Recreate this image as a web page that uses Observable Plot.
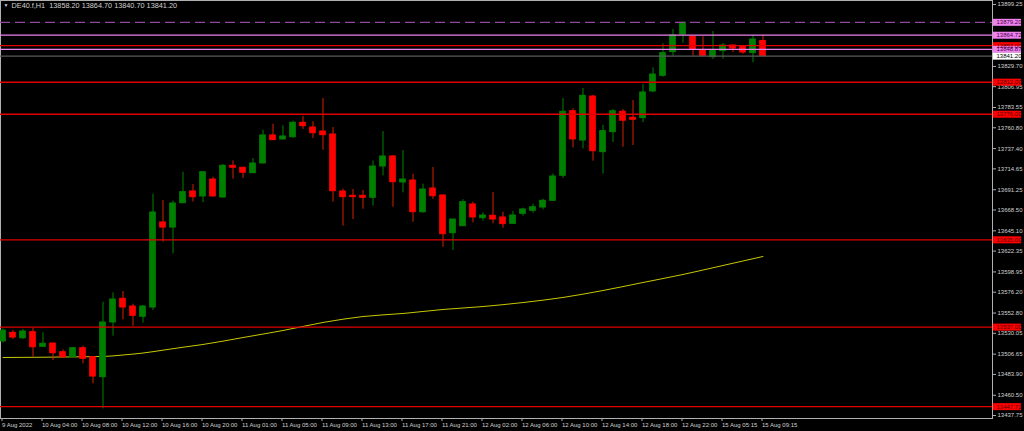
<!DOCTYPE html>
<html><head><meta charset="utf-8">
<script src="https://cdn.jsdelivr.net/npm/d3@7"></script>
<script src="https://cdn.jsdelivr.net/npm/@observablehq/plot@0.6"></script>
<style>
html,body{margin:0;padding:0;background:#000;}
#chart{width:1024px;height:431px;overflow:hidden;}
</style></head><body><div id="chart"></div>
<script>
// ---- data ----
const symbolName = "DE40.f,H1";
const lastOHLC = [13858.20, 13864.70, 13840.70, 13841.20];

const opens = [
13521.0, 13530.6, 13524.5, 13531.3, 13514.9, 13518.6, 13508.8, 13503.2, 13513.3, 13503.2,
13480.8, 13542.2, 13568.8, 13560.1, 13548.6, 13559.0, 13654.5, 13648.8, 13676.1, 13689.3,
13683.7, 13702.7, 13682.5, 13718.1, 13715.9, 13709.8, 13720.7, 13752.2, 13747.7, 13750.2,
13766.4, 13761.1, 13756.6, 13753.3, 13689.3, 13684.4, 13684.4, 13682.2, 13717.3, 13728.6,
13699.4, 13701.6, 13666.0, 13692.6, 13684.8, 13642.4, 13650.3, 13674.7, 13659.3, 13662.0,
13660.1, 13653.0, 13664.2, 13667.6, 13671.3, 13678.8, 13706.9, 13779.4, 13746.5, 13795.9,
13733.4, 13755.9, 13778.8, 13772.0, 13771.6, 13801.6, 13819.2, 13845.7, 13865.5, 13863.0,
13847.6, 13840.1, 13846.8, 13853.2, 13851.7, 13844.6, 13858.2];
const highs = [
13535.0, 13533.2, 13534.3, 13535.8, 13530.6, 13518.8, 13511.5, 13514.1, 13515.6, 13503.6,
13565.0, 13575.5, 13577.0, 13562.7, 13561.3, 13686.2, 13679.2, 13678.6, 13710.9, 13697.1,
13711.2, 13705.3, 13719.6, 13723.7, 13716.2, 13726.3, 13758.1, 13764.8, 13763.0, 13768.2,
13773.5, 13767.5, 13793.7, 13761.1, 13691.9, 13691.5, 13690.4, 13723.7, 13756.6, 13729.7,
13735.3, 13708.7, 13697.5, 13716.2, 13685.2, 13658.0, 13680.0, 13677.3, 13665.4, 13688.1,
13666.0, 13666.8, 13670.5, 13675.0, 13680.6, 13709.1, 13793.7, 13782.1, 13804.9, 13797.1,
13763.4, 13781.3, 13781.3, 13791.4, 13809.4, 13828.2, 13855.1, 13871.2, 13879.2, 13863.3,
13863.0, 13868.9, 13855.5, 13853.5, 13853.2, 13864.4, 13864.7];
const lows = [
13519.0, 13523.1, 13523.1, 13503.2, 13514.4, 13499.5, 13502.1, 13502.9, 13495.8, 13473.3,
13445.3, 13526.8, 13545.2, 13538.0, 13541.4, 13555.7, 13632.3, 13619.3, 13675.8, 13677.3,
13676.6, 13682.9, 13682.2, 13703.1, 13703.9, 13709.5, 13720.4, 13746.6, 13747.3, 13749.1,
13758.9, 13748.8, 13735.6, 13677.3, 13650.3, 13657.8, 13669.4, 13672.8, 13706.9, 13671.6,
13687.8, 13654.8, 13664.9, 13680.3, 13626.7, 13623.0, 13650.0, 13654.1, 13655.9, 13653.0,
13648.1, 13652.8, 13661.5, 13664.9, 13668.7, 13678.5, 13703.9, 13738.3, 13737.2, 13723.3,
13708.7, 13744.3, 13739.0, 13740.9, 13766.4, 13800.1, 13817.6, 13841.2, 13855.8, 13841.2,
13840.1, 13837.5, 13837.8, 13845.3, 13843.4, 13833.8, 13840.7];
const closes = [
13533.0, 13525.3, 13532.1, 13514.4, 13518.3, 13507.7, 13503.2, 13513.3, 13501.4, 13481.5,
13542.2, 13568.0, 13559.0, 13549.7, 13560.1, 13665.7, 13648.8, 13675.8, 13688.5, 13682.9,
13710.9, 13683.7, 13718.1, 13715.9, 13710.3, 13720.7, 13752.2, 13746.9, 13751.0, 13766.4,
13762.6, 13754.7, 13752.5, 13689.6, 13682.9, 13682.9, 13682.2, 13717.3, 13728.6, 13699.7,
13702.7, 13666.0, 13691.5, 13684.0, 13641.3, 13657.8, 13677.3, 13660.1, 13662.3, 13657.8,
13652.6, 13662.3, 13669.1, 13671.6, 13678.8, 13706.1, 13778.8, 13747.7, 13796.7, 13734.5,
13757.0, 13779.4, 13768.7, 13769.8, 13800.4, 13820.6, 13844.6, 13864.4, 13878.7, 13848.4,
13841.6, 13847.6, 13853.2, 13849.8, 13845.3, 13859.9, 13841.2];

// moving average read at selected bars
const maBars   = [0, 4, 8, 10, 12, 14, 16, 18, 20, 24, 28, 32, 36, 40, 44, 48, 52, 56, 60, 64, 68, 72, 76];
const maValues = [13502.9, 13503.2, 13503.7, 13504.0, 13505.7, 13507.9, 13511.1, 13514.4, 13517.5, 13525.3,
                  13533.2, 13542.2, 13548.9, 13552.3, 13556.8, 13560.1, 13564.6, 13570.3, 13578.1, 13587.1,
                  13596.1, 13606.2, 13616.3];

// time axis labels (every 4th bar)
const timeLabels = ["9 Aug 2022","10 Aug 04:00","10 Aug 08:00","10 Aug 12:00","10 Aug 16:00","10 Aug 20:00",
  "11 Aug 01:00","11 Aug 05:00","11 Aug 09:00","11 Aug 13:00","11 Aug 17:00","11 Aug 21:00",
  "12 Aug 02:00","12 Aug 06:00","12 Aug 10:00","12 Aug 14:00","12 Aug 18:00","12 Aug 22:00",
  "15 Aug 05:15","15 Aug 09:15"];
const timeLabelStep = 4;

// price axis ticks (those hidden under level boxes in the original are left out)
const priceTicks = [13437.75, 13460.50, 13483.90, 13506.65, 13530.05, 13552.80, 13576.20, 13598.95,
  13622.35, 13645.10, 13668.50, 13691.25, 13714.65, 13737.40, 13760.80, 13783.55, 13806.95, 13829.70,
  13899.25];

// horizontal levels
const redLevels = [13853.00, 13812.00, 13776.00, 13635.00, 13537.00, 13447.72];
const violetLevels = [13864.72, 13848.87];
const dashedLevels = [13879.20];
const bidLevel = [13841.20];

// ---- build ----
const bars = opens.map((o, i) => ({i, o, h: highs[i], l: lows[i], c: closes[i], up: closes[i] >= o}));
const up = bars.filter(d => d.up), down = bars.filter(d => !d.up);
const ma = maBars.map((b, k) => ({i: b, v: maValues[k]}));
const labelBars = timeLabels.map((_, k) => k * timeLabelStep);

const xStart = -0.25, xEnd = 98.95;
const yDomain = [13434.4, 13903.7];
const FONT = "'Liberation Sans',Arial,sans-serif";
const half = 0.28;

const boxes = [
  ...redLevels.map(v => ({v, fill: "#ff0000", text: "#5a0000"})),
  ...dashedLevels.map(v => ({v, fill: "#ee82ee", text: "#4a004a"})),
  ...violetLevels.map(v => ({v, fill: "#ee82ee", text: "#4a004a"})),
  ...bidLevel.map(v => ({v, fill: "#ffffff", text: "#000000"}))
];

const chart = Plot.plot({
  width: 1024, height: 431,
  marginLeft: 0, marginRight: 32, marginTop: 0, marginBottom: 13,
  style: {background: "#000", color: "#d0d0d0", fontFamily: FONT, fontSize: "6px", overflow: "visible"},
  x: {type: "linear", domain: [xStart, xEnd], axis: null, label: null},
  y: {domain: yDomain, axis: null, label: null},
  marks: [
    Plot.frame({stroke: "#b0b0b0"}),
    // moving average
    Plot.line(ma, {x: "i", y: "v", stroke: "#c8c800", strokeWidth: 1, curve: "monotone-x"}),
    // wicks
    Plot.ruleX(up, {x: "i", y1: "l", y2: "h", stroke: "#008000"}),
    Plot.ruleX(down, {x: "i", y1: "l", y2: "h", stroke: "#d42000"}),
    // bodies
    Plot.rect(up, {x1: d => d.i - half, x2: d => d.i + half, y1: d => Math.min(d.o, d.c), y2: d => Math.max(d.o, d.c), fill: "#008000", stroke: "#008000"}),
    Plot.rect(down, {x1: d => d.i - half, x2: d => d.i + half, y1: d => Math.min(d.o, d.c), y2: d => Math.max(d.o, d.c), fill: "#ff0000", stroke: "#ff0000"}),
    // levels
    Plot.ruleY(bidLevel, {stroke: "#5a5a5a", strokeWidth: 1.2}),
    Plot.ruleY(redLevels, {stroke: "#e00000", strokeWidth: 1.4}),
    Plot.ruleY(violetLevels, {stroke: "#ee82ee", strokeWidth: 1.2}),
    Plot.ruleY(dashedLevels, {stroke: "#8e4a9a", strokeWidth: 1.2, strokeDasharray: "10,5"}),
    // axes
    Plot.axisY({anchor: "right", label: null, ticks: priceTicks, tickFormat: d => d.toFixed(2), tickSize: 3, tickPadding: 2, stroke: "#b0b0b0", fill: "#d0d0d0"}),
    Plot.axisX({anchor: "bottom", label: null, ticks: labelBars, tickFormat: i => timeLabels[i / timeLabelStep], tickSize: 3, tickPadding: 1, textAnchor: "start", dx: -1, stroke: "#b0b0b0", fill: "#d0d0d0"}),
    // level price boxes on the axis
    Plot.ruleY(boxes, {y: "v", x1: xEnd + 0.08, x2: xEnd + 2.9, stroke: "fill", strokeWidth: 7}),
    Plot.text(boxes, {y: "v", x: xEnd, dx: 4, text: d => d.v.toFixed(2), textAnchor: "start", fill: "text"}),
    // title
    Plot.text(["▼"], {frameAnchor: "top-left", dx: 3, dy: 3, fontSize: 5, fill: "#d0d0d0", textAnchor: "start"}),
    Plot.text([`${symbolName}  ${lastOHLC.map(v => v.toFixed(2)).join(" ")}`], {frameAnchor: "top-left", dx: 11, dy: 2, fontSize: 7.3, fill: "#d0d0d0", textAnchor: "start", lineAnchor: "top"})
  ]
});
document.getElementById("chart").appendChild(chart);
</script>
</body></html>
